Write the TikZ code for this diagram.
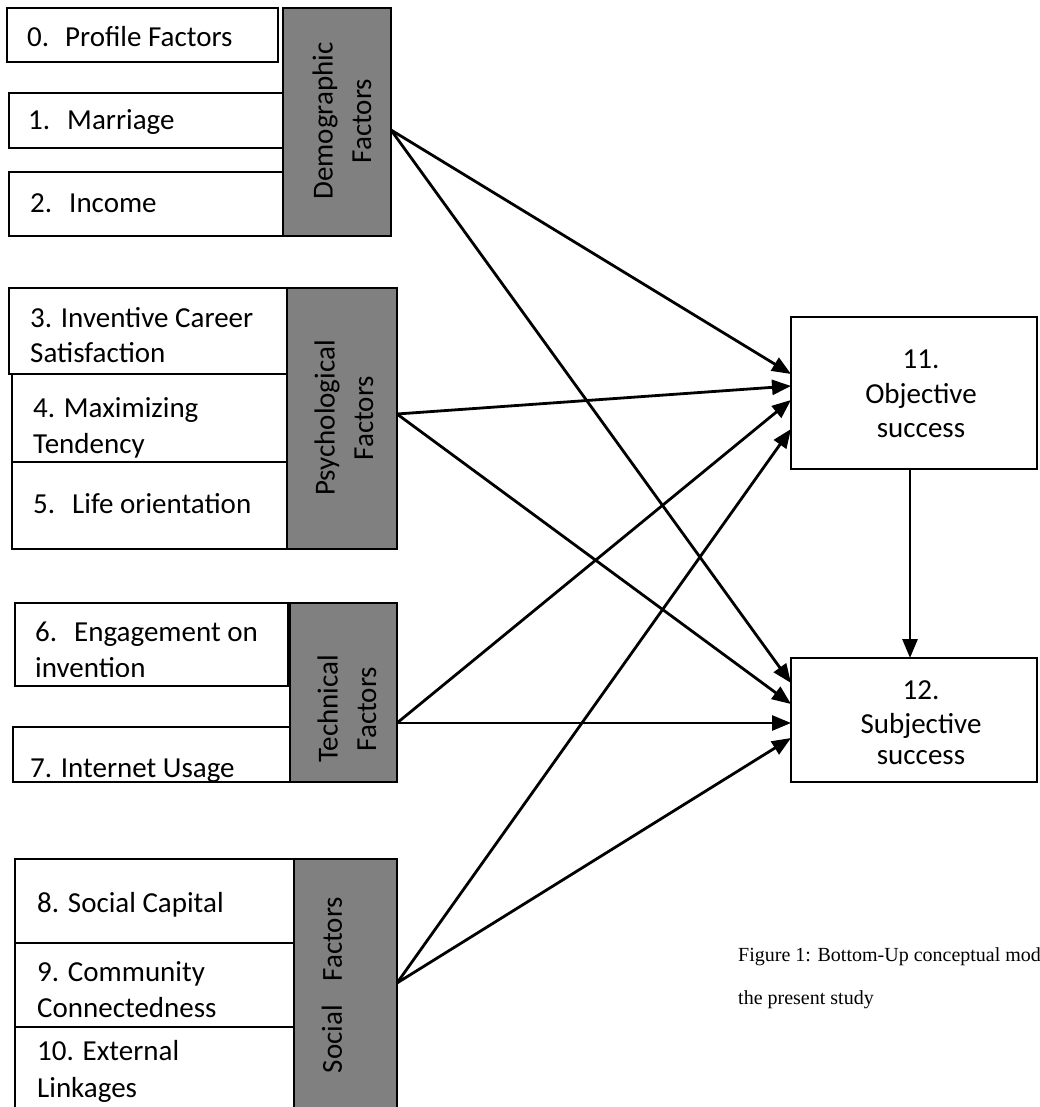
\documentclass[tikz,border=0pt]{standalone}
\usepackage{fontspec}
\setmainfont{Carlito}
\newfontfamily\capfont{Liberation Serif}
\usetikzlibrary{arrows.meta,calc}
\definecolor{panelgray}{RGB}{128,128,128}

\begin{document}
\begin{tikzpicture}[x=1pt,y=-1pt,
  font=\fontsize{29}{35.5}\selectfont,
  itembox/.style={draw=black, line width=1.6pt, fill=white, inner sep=0pt, outer sep=0pt, anchor=north west},
  groupbox/.style={draw=black, line width=1.6pt, fill=panelgray, inner sep=0pt, outer sep=0pt, anchor=north west},
  resultbox/.style={draw=black, line width=1.6pt, fill=white, inner sep=0pt, outer sep=0pt, anchor=north west},
  itemtext/.style={anchor=base west, inner sep=0pt},
  midtext/.style={anchor=base, inner sep=0pt},
  grouptext/.style={rotate=90, align=center, inner sep=0pt},
  link/.style={line width=2.8pt, -{Triangle[length=19pt,width=15pt]}}]

\useasboundingbox (0,0) rectangle (1040,1107);
\clip (0,0) rectangle (1040,1107);

% Demographic group
\node[itembox, minimum width=271pt, minimum height=54pt] (b0) at (7,8) {};
\node[itembox, minimum width=275pt, minimum height=55pt] (b1) at (9,93) {};
\node[itembox, minimum width=275pt, minimum height=64pt] (b2) at (9,172) {};
\node[groupbox, minimum width=108pt, minimum height=228pt] (demo) at (283,8) {};
\node[itemtext] (t0) at (27,47) {0.\hspace{16pt}Profile Factors};
\node[itemtext] (t1) at (28,130) {1.\hspace{17pt}Marriage};
\node[itemtext] (t2) at (30,213) {2.\hspace{17pt}Income};
\node[grouptext] (demoT) at (342,121) {Demographic\\[3pt]Factors};

% Psychological group
\node[itembox, minimum width=278pt, minimum height=86pt] (b3) at (9,288) {};
\node[itembox, minimum width=275pt, minimum height=88pt] (b4) at (12,374) {};
\node[itembox, minimum width=275pt, minimum height=87pt] (b5) at (12,462) {};
\node[groupbox, minimum width=110pt, minimum height=261pt] (psych) at (287,288) {};
\node[itemtext] (t3a) at (30,327) {3. Inventive Career};
\node[itemtext] (t3b) at (30,362) {Satisfaction};
\begin{scope}
  \clip (12,374) rectangle (287,460);
  \node[itemtext] (t4a) at (33,417) {4. Maximizing};
  \node[itemtext] (t4b) at (33,453) {Tendency};
\end{scope}
\node[itemtext] (t5) at (33,513) {5.\hspace{17pt}Life orientation};
\node[grouptext] (psychT) at (344,418) {Psychological\\[3pt]Factors};

% Technical group
\node[itembox, minimum width=273pt, minimum height=83pt] (b6) at (15,603) {};
\node[itembox, minimum width=277pt, minimum height=55pt] (b7) at (13,727) {};
\node[groupbox, minimum width=107pt, minimum height=179pt] (tech) at (290,603) {};
\begin{scope}
  \clip (15,603) rectangle (288,676);
  \node[itemtext] (t6a) at (35,641) {6.\hspace{17pt}Engagement on};
  \node[itemtext] (t6b) at (35,677) {invention};
\end{scope}
\node[itemtext] (t7) at (30,777) {7. Internet Usage};
\node[grouptext] (techT) at (347,709) {Technical\\[3pt]Factors};

% Social group
\node[itembox, minimum width=287pt, minimum height=84pt] (b8) at (15,859) {};
\node[itembox, minimum width=279pt, minimum height=84pt] (b9) at (15,943) {};
\node[itembox, minimum width=279pt, minimum height=100pt] (b10) at (15,1027) {};
\node[groupbox, minimum width=103pt, minimum height=270pt] (social) at (294,859) {};
\node[itemtext] (t8) at (37,912) {8. Social Capital};
\node[itemtext] (t9a) at (37,981) {9. Community};
\node[itemtext] (t9b) at (37,1017) {Connectedness};
\node[itemtext] (t10a) at (37,1060) {10. External};
\node[itemtext] (t10b) at (37,1097) {Linkages};
\node[grouptext] (socialT) at (332,985) {Social\hspace{24pt}Factors};

% Outcome boxes
\node[resultbox, minimum width=246pt, minimum height=152pt] (obj) at (791,317) {};
\node[resultbox, minimum width=246pt, minimum height=124pt] (subj) at (791,658) {};
\node[midtext] (t11a) at (921,368) {11.};
\node[midtext] (t11b) at (921,403) {Objective};
\node[midtext] (t11c) at (921,437) {success};
\node[midtext] (t12a) at (921,699) {12.};
\node[midtext] (t12b) at (921,733) {Subjective};
\node[midtext] (t12c) at (921,764) {success};

% Paths from each factor group to both outcomes
\draw[link] ($(demo.north east)+(0,122)$) -- ($(obj.north west)+(0,57)$);
\draw[link] ($(demo.north east)+(0,122)$) -- ($(subj.north west)+(0,25)$);
\draw[link] ($(psych.north east)+(0,126)$) -- ($(obj.north west)+(0,69)$);
\draw[link] ($(psych.north east)+(0,126)$) -- ($(subj.north west)+(0,46)$);
\draw[link] ($(tech.north east)+(0,120)$) -- ($(obj.north west)+(0,83)$);
\draw[link] ($(tech.north east)+(0,120)$) -- ($(subj.north west)+(0,65)$);
\draw[link] ($(social.north east)+(0,124)$) -- ($(obj.north west)+(0,112)$);
\draw[link] ($(social.north east)+(0,124)$) -- ($(subj.north west)+(0,80)$);
\draw[link] ($(obj.south west)+(119,0)$) -- ($(subj.north west)+(119,0)$);

% Caption
\node[itemtext, font=\capfont\fontsize{20}{24}\selectfont] (cap1) at (738,961) {Figure 1: Bottom-Up conceptual model};
\node[itemtext, font=\capfont\fontsize{20}{24}\selectfont] (cap2) at (738,1004) {the present study};
\end{tikzpicture}
\end{document}
